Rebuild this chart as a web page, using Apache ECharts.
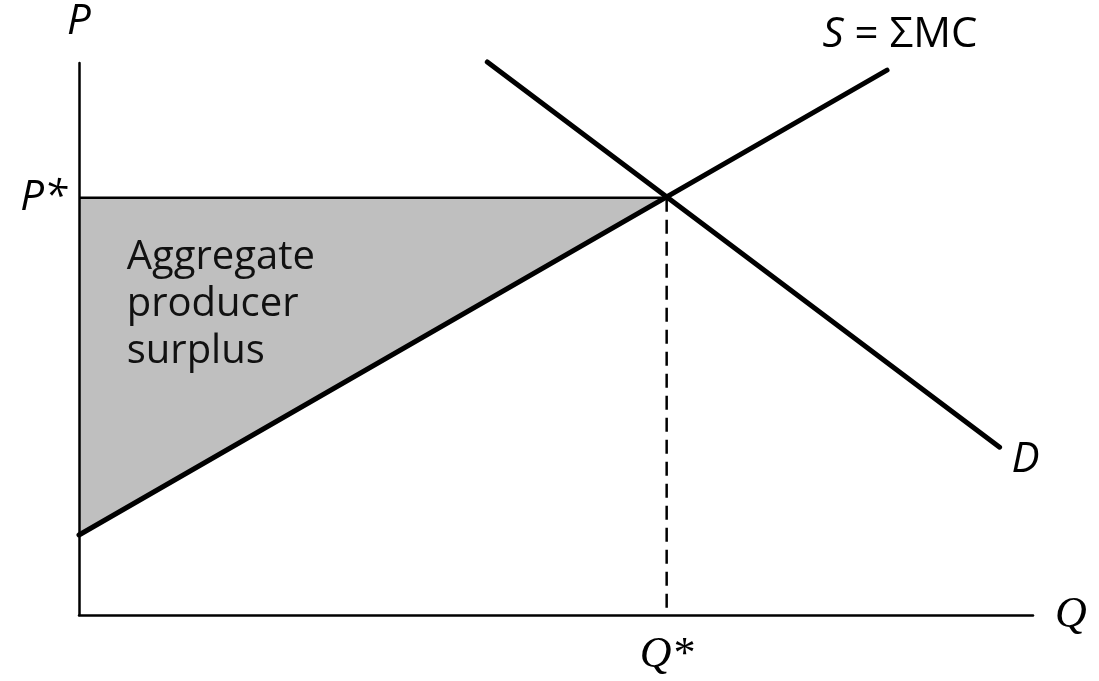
<!DOCTYPE html>
<html>
<head>
<meta charset="utf-8">
<script src="https://cdn.jsdelivr.net/npm/echarts@6/dist/echarts.min.js"></script>
<style>
html,body{margin:0;padding:0;background:#fff;}
#main{width:1099px;height:681px;}
</style>
</head>
<body>
<div id="main"></div>
<script>
// equilibrium values (axes run 0..10)
var qStar=6.16;
var pStar=7.56;
// supply S = sum MC, and demand D, as end points [Q,P]
var supplyPts=[[0,1.45],[8.47,9.87]];
var demandPts=[[4.28,10.02],[9.65,3.04]];
// shaded producer surplus triangle
var surplusPts=[[0,pStar],[qStar,pStar],[0,1.45]];

var sans='"Open Sans", "Noto Sans", sans-serif';
var serif='"Liberation Serif", serif';

var myChart=echarts.init(document.getElementById('main'));

var option={
    backgroundColor:'#fff',
    animation:false,
    grid:{left:79,right:66,top:63,bottom:66,containLabel:false,outerBoundsMode:'none'},
    xAxis:{
        type:'value',min:0,max:10,z:6,
        name:'Q',nameLocation:'end',nameGap:22,
        nameTextStyle:{fontFamily:serif,fontStyle:'italic',fontSize:44,color:'#000',verticalAlign:'middle'},
        axisLine:{lineStyle:{color:'#000',width:2.5}},
        axisTick:{show:false},
        splitLine:{show:false},
        axisLabel:{customValues:[qStar],formatter:function(){return 'Q*';},
            fontFamily:serif,fontStyle:'italic',fontSize:44,color:'#000',margin:18}
    },
    yAxis:{
        type:'value',min:0,max:10,z:6,
        name:'P',nameLocation:'end',nameGap:20,
        nameTextStyle:{fontFamily:sans,fontStyle:'italic',fontSize:42,color:'#000',align:'center'},
        axisLine:{lineStyle:{color:'#000',width:2.5}},
        axisTick:{show:false},
        splitLine:{show:false},
        axisLabel:{customValues:[pStar],formatter:function(){return 'P*';},
            fontFamily:sans,fontStyle:'italic',fontSize:42,color:'#000',margin:12}
    },
    series:[
        {
            type:'custom',
            data:[[0,0]],
            z:1,
            renderItem:function(params,api){
                var pts=surplusPts.map(function(p){return api.coord(p);});
                var tp=api.coord([0.5,5.62]);
                return {type:'group',children:[
                    {type:'polygon',shape:{points:pts},style:{fill:'#bfbfbf'}},
                    {type:'text',x:tp[0],y:tp[1],style:{
                        text:'Aggregate\nproducer\nsurplus',
                        font:'40px '+sans,fill:'#111',
                        verticalAlign:'middle',align:'left',lineHeight:47}}
                ]};
            }
        },
        {
            type:'line',
            data:[[0,pStar],[qStar,pStar]],
            symbol:'none',z:3,
            lineStyle:{color:'#000',width:2.5}
        },
        {
            type:'line',
            data:[[qStar,pStar],[qStar,0]],
            symbol:'none',z:3,
            lineStyle:{color:'#000',width:2.5,type:[14,8]}
        },
        {
            type:'line',
            data:supplyPts,
            symbol:'none',clip:false,z:4,
            lineStyle:{color:'#000',width:5,cap:'round'},
            markPoint:{
                symbolSize:0,
                data:[{coord:supplyPts[1],label:{show:true,offset:[13,-35],
                    formatter:'{i|S} = ΣMC',
                    fontFamily:sans,fontSize:42,color:'#000',
                    rich:{i:{fontFamily:sans,fontStyle:'italic',fontSize:42,color:'#000'}}}}]
            }
        },
        {
            type:'line',
            data:demandPts,
            symbol:'none',clip:false,z:4,
            lineStyle:{color:'#000',width:5,cap:'round'},
            markPoint:{
                symbolSize:0,
                data:[{coord:demandPts[1],label:{show:true,offset:[26,13],
                    formatter:'D',
                    fontFamily:sans,fontStyle:'italic',fontSize:42,color:'#000'}}]
            }
        }
    ]
};
myChart.setOption(option);
</script>
</body>
</html>
